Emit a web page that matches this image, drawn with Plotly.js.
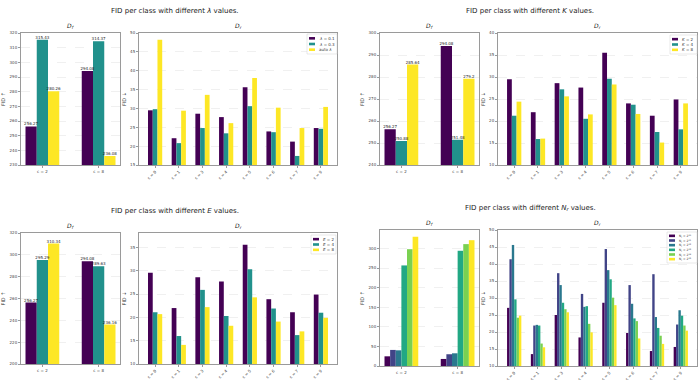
<!DOCTYPE html>
<html>
<head>
<meta charset="utf-8">
<script src="https://cdn.plot.ly/plotly-3.0.1.min.js"></script>
<style>
  html, body { margin: 0; padding: 0; background: #fff; }
  #chart { width: 700px; height: 380px; }
</style>
</head>
<body>
<div id="chart"></div>
<script>
const W = 700, H = 380;
const px = (x) => x / W;
const py = (y) => 1 - y / H;

// --- data ---
const forgetClasses = ["c = 2", "c = 8"];
const retainClasses = ["c = 0", "c = 1", "c = 3", "c = 4", "c = 5", "c = 6", "c = 7", "c = 9"];

const viridis3 = ["#440154", "#21918c", "#fde725"];
const viridis6 = ["#440154", "#414487", "#2a788e", "#22a884", "#7ad151", "#fde725"];

const lambdaNames = ["<i>λ</i> = 0.1", "<i>λ</i> = 0.3", "auto <i>λ</i>"];
const lambdaForget = [[256.27, 294.08], [315.43, 314.37], [280.26, 236.08]];
const lambdaRetain = [
  [29.5, 22.1, 28.6, 27.7, 35.6, 23.9, 21.2, 24.8],
  [29.8, 20.8, 24.8, 23.4, 30.6, 23.7, 17.4, 24.6],
  [48.2, 29.4, 33.6, 26.1, 38.1, 30.2, 24.8, 30.4],
];

const kNames = ["<i>K</i> = 2", "<i>K</i> = 4", "<i>K</i> = 8"];
const kForget = [[256.27, 294.08], [250.88, 251.48], [285.64, 279.2]];
const kRetain = [
  [29.5, 22.0, 28.6, 27.6, 35.5, 24.0, 21.2, 24.9],
  [21.2, 15.9, 27.2, 20.5, 29.6, 23.7, 17.5, 18.1],
  [24.4, 16.0, 25.6, 21.5, 28.3, 21.6, 15.1, 24.0],
];

const eNames = ["<i>E</i> = 2", "<i>E</i> = 4", "<i>E</i> = 8"];
const eForget = [[256.27, 294.08], [295.29, 289.63], [310.34, 236.16]];
const eRetain = [
  [29.6, 22.0, 28.6, 27.7, 35.6, 23.9, 21.1, 24.9],
  [21.1, 16.0, 25.9, 20.3, 30.3, 21.9, 16.2, 21.0],
  [20.7, 14.1, 22.2, 18.2, 24.3, 19.1, 17.0, 19.9],
];

const nrNames = [10, 11, 12, 13, 14, 15].map((p) => `N<sub>r</sub> = 2<sup>${p}</sup>`);
const nrForget = [[24.7, 18], [41, 30], [40, 32.4], [256.6, 294], [298, 311], [330, 321]];
const nrRetain = [
  [27.1, 13.5, 25.0, 18.4, 28.6, 19.7, 14.4, 15.6],
  [41.4, 21.9, 37.3, 31.2, 44.4, 33.8, 37.0, 22.2],
  [45.6, 22.1, 33.8, 27.4, 38.2, 28.3, 24.4, 26.4],
  [29.6, 21.9, 28.6, 27.6, 35.5, 24.0, 21.2, 24.8],
  [24.2, 16.6, 26.7, 22.4, 30.1, 23.2, 18.9, 21.9],
  [24.8, 15.5, 25.8, 19.9, 27.9, 18.1, 16.5, 20.4],
];

const suptitles = [
  { text: "FID per class with different <i>λ</i> values.", x: 175, y: 5 },
  { text: "FID per class with different <i>K</i> values.", x: 530, y: 5 },
  { text: "FID per class with different <i>E</i> values.", x: 175, y: 205 },
  { text: "FID per class with different <i>N<sub>r</sub></i> values.", x: 530, y: 202 },
];

// box = [left, top, right, bottom] in px
const panels = [
  { box: [21, 33, 120, 165], cats: forgetClasses, names: lambdaNames, values: lambdaForget, colors: viridis3, range: [230, 320], dtick: 10, forget: true, labels: true },
  { box: [139, 33, 337, 165], cats: retainClasses, names: lambdaNames, values: lambdaRetain, colors: viridis3, range: [15, 50], dtick: 5, legend: [307, 34, 337, 54] },
  { box: [380, 33, 479, 165], cats: forgetClasses, names: kNames, values: kForget, colors: viridis3, range: [240, 300], dtick: 10, forget: true, labels: true },
  { box: [498, 33, 697, 165], cats: retainClasses, names: kNames, values: kRetain, colors: viridis3, range: [10, 40], dtick: 5, legend: [670, 35, 697, 54] },
  { box: [21, 233, 120, 364], cats: forgetClasses, names: eNames, values: eForget, colors: viridis3, range: [200, 320], dtick: 20, forget: true, labels: true },
  { box: [139, 233, 337, 364], cats: retainClasses, names: eNames, values: eRetain, colors: viridis3, range: [10, 38.1], dtick: 5, legend: [311, 235, 336, 254] },
  { box: [380, 230, 479, 366], cats: forgetClasses, names: nrNames, values: nrForget, colors: viridis6, range: [0, 347], dtick: 50, forget: true },
  { box: [498, 230, 697, 366], cats: retainClasses, names: nrNames, values: nrRetain, colors: viridis6, range: [10, 50], dtick: 5, legend: [667, 232, 697, 263] },
];

const tickFont = { family: "DejaVu Sans", size: 4, color: "#444" };
const barTraces = [];
const labelTraces = [];
const shapes = [];
const annotations = [];
const layout = {
  width: W,
  height: H,
  margin: { l: 0, r: 0, t: 0, b: 0 },
  paper_bgcolor: "#fff",
  plot_bgcolor: "#fff",
  barmode: "group",
  bargap: 0.4,
  bargroupgap: 0,
  scattermode: "group",
  scattergap: 0.4,
  showlegend: false,
  font: { family: "DejaVu Sans", color: "#222" },
};

suptitles.forEach((s) => {
  annotations.push({
    text: s.text, xref: "paper", yref: "paper", x: px(s.x), y: py(s.y),
    xanchor: "center", yanchor: "top", showarrow: false,
    font: { family: "DejaVu Sans", size: 7, color: "#1a1a1a" },
  });
});

panels.forEach((p, i) => {
  const k = i + 1;
  const xName = k === 1 ? "x" : "x" + k;
  const yName = k === 1 ? "y" : "y" + k;
  const [l, t, r, b] = p.box;
  const n = p.cats.length;
  const pad = (n - 1 + 0.6) * 0.05;

  p.values.forEach((vals, s) => {
    barTraces.push({
      type: "bar",
      x: p.cats,
      y: vals,
      name: p.names[s],
      xaxis: xName,
      yaxis: yName,
      offsetgroup: "g" + s,
      alignmentgroup: "a" + k,
      marker: { color: p.colors[s], line: { width: 0 } },
      hoverinfo: "skip",
    });
    // value labels on top of everything, like ax.text after the bars
    if (p.labels) {
      labelTraces.push({
        type: "scatter",
        mode: "text",
        x: p.cats,
        y: vals,
        text: vals.map((v) => String(v)),
        textposition: "top center",
        textfont: { family: "DejaVu Sans", size: 4, color: "#222" },
        xaxis: xName,
        yaxis: yName,
        offsetgroup: "g" + s,
        alignmentgroup: "a" + k,
        cliponaxis: false,
        hoverinfo: "skip",
      });
    }
  });

  layout["xaxis" + (k === 1 ? "" : k)] = {
    domain: [px(l), px(r)],
    anchor: yName,
    type: "category",
    range: [-0.3 - pad, n - 1 + 0.3 + pad],
    showline: true, mirror: true, linecolor: "#9a9a9a", linewidth: 1,
    ticks: "outside", ticklen: 2, tickcolor: "#9a9a9a",
    tickangle: p.forget ? 0 : -45,
    tickfont: tickFont,
    showgrid: false, zeroline: false, fixedrange: true,
  };
  layout["yaxis" + (k === 1 ? "" : k)] = {
    domain: [py(b), py(t)],
    anchor: xName,
    range: p.range,
    dtick: p.dtick,
    tick0: 0,
    showline: true, mirror: true, linecolor: "#9a9a9a", linewidth: 1,
    ticks: "outside", ticklen: 2, tickcolor: "#9a9a9a",
    tickfont: tickFont,
    showgrid: true, gridcolor: "#e2e2e2", gridwidth: 0.5, griddash: "dash",
    zeroline: false, fixedrange: true,
    title: { text: p.forget ? "FID ↑" : "FID ↓", font: { family: "DejaVu Sans", size: 5, color: "#333" }, standoff: 3 },
  };

  annotations.push({
    text: p.forget ? "<i>D<sub>f</sub></i>" : "<i>D<sub>r</sub></i>",
    xref: "paper", yref: "paper", x: px((l + r) / 2), y: py(t - 1),
    xanchor: "center", yanchor: "bottom", showarrow: false,
    font: { family: "DejaVu Sans", size: 6, color: "#222" },
  });

  // small matplotlib-style legend box
  if (p.legend) {
    const [lx0, ly0, lx1, ly1] = p.legend;
    shapes.push({
      type: "rect", xref: "paper", yref: "paper",
      x0: px(lx0), x1: px(lx1), y0: py(ly1), y1: py(ly0),
      line: { color: "#d0d0d0", width: 0.5 }, fillcolor: "rgba(255,255,255,0.85)",
    });
    const rows = p.names.length;
    const rowH = (ly1 - ly0 - 3) / rows;
    const fs = rows > 3 ? 3 : 4;
    p.names.forEach((nm, s) => {
      const cy = ly0 + 1.5 + rowH * (s + 0.5);
      shapes.push({
        type: "rect", xref: "paper", yref: "paper",
        x0: px(lx0 + 2), x1: px(lx0 + 8), y0: py(cy + 1.3), y1: py(cy - 1.3),
        line: { width: 0 }, fillcolor: p.colors[s],
      });
      annotations.push({
        text: nm, xref: "paper", yref: "paper", x: px(lx0 + 9.5), y: py(cy),
        xanchor: "left", yanchor: "middle", showarrow: false,
        font: { family: "DejaVu Sans", size: fs, color: "#333" },
      });
    });
  }
});

layout.shapes = shapes;
layout.annotations = annotations;

Plotly.newPlot("chart", barTraces.concat(labelTraces), layout, { staticPlot: true, displayModeBar: false });
</script>
</body>
</html>
